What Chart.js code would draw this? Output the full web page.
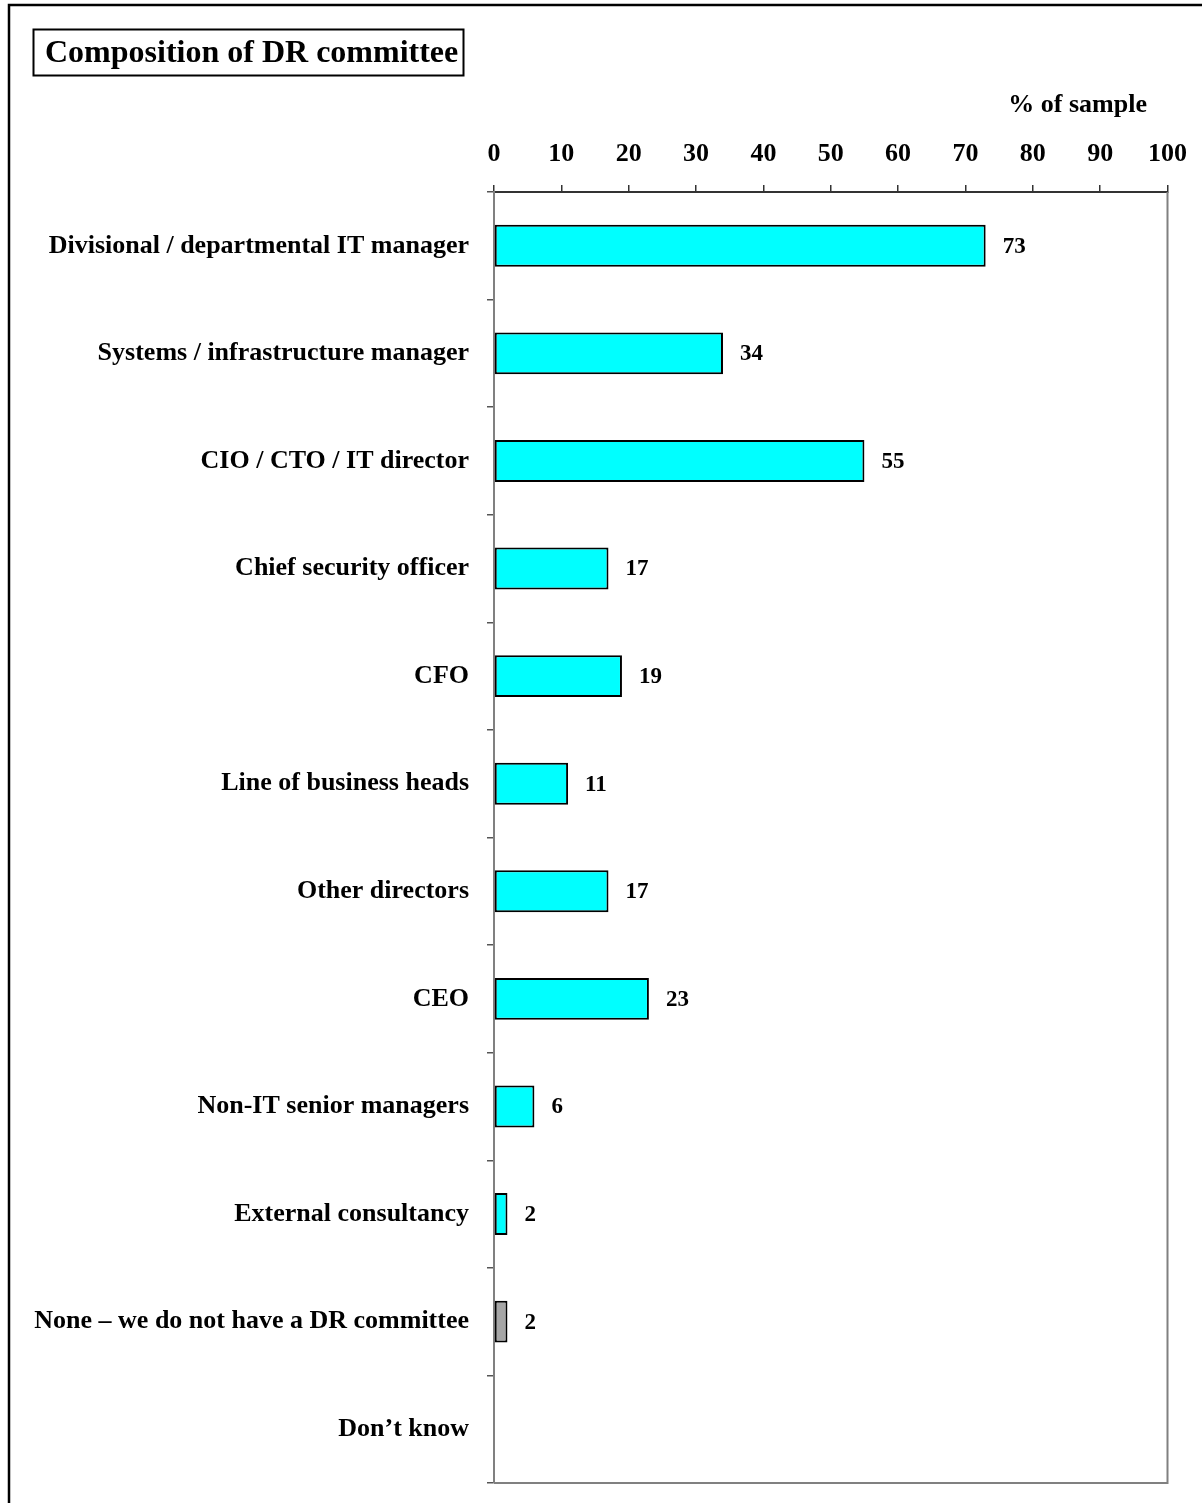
<!DOCTYPE html>
<html>
<head>
<meta charset="utf-8">
<title>Composition of DR committee</title>
<script src="https://cdn.jsdelivr.net/npm/chart.js@4/dist/chart.umd.min.js"></script>
<style>
    body { margin: 0; background: #fff; }
    #wrap { width: 1202px; height: 1503px; }
</style>
</head>
<body>
<div id="wrap"><canvas id="drChart" width="1202" height="1503"></canvas></div>
<script>
const categories = [
    'Divisional / departmental IT manager',
    'Systems / infrastructure manager',
    'CIO / CTO / IT director',
    'Chief security officer',
    'CFO',
    'Line of business heads',
    'Other directors',
    'CEO',
    'Non-IT senior managers',
    'External consultancy',
    'None \u2013 we do not have a DR committee',
    'Don\u2019t know'
];
const shares = [73, 34, 55, 17, 19, 11, 17, 23, 6, 2, 2, null];
const barColors = ['#00FFFF', '#00FFFF', '#00FFFF', '#00FFFF', '#00FFFF', '#00FFFF',
    '#00FFFF', '#00FFFF', '#00FFFF', '#00FFFF', '#A6A6A6', '#00FFFF'];
const xTicks = [0, 10, 20, 30, 40, 50, 60, 70, 80, 90, 100];

Chart.defaults.font.family = '"Liberation Serif", "Times New Roman", serif';
Chart.defaults.font.weight = 'bold';
Chart.defaults.color = '#000';

// frame, title box, axis caption and the plot border
const decorations = {
    id: 'decorations',
    afterDraw(chart) {
        const ctx = chart.ctx;
        const area = chart.chartArea;
        ctx.save();

        ctx.strokeStyle = '#000';
        ctx.lineWidth = 2.5;
        ctx.beginPath();
        ctx.moveTo(9, 1503);
        ctx.lineTo(9, 5);
        ctx.lineTo(1202, 5);
        ctx.stroke();

        ctx.lineWidth = 2;
        ctx.strokeRect(33.5, 29.5, 430, 46);
        ctx.font = 'bold 32px "Liberation Serif", serif';
        ctx.fillStyle = '#000';
        ctx.textBaseline = 'middle';
        ctx.textAlign = 'left';
        ctx.fillText('Composition of DR committee', 45, 54);

        ctx.font = 'bold 26px "Liberation Serif", serif';
        ctx.textAlign = 'right';
        ctx.fillText('% of sample', 1147, 105);

        ctx.strokeStyle = '#808080';
        ctx.lineWidth = 2;
        ctx.beginPath();
        ctx.moveTo(area.left, area.bottom);
        ctx.lineTo(area.right, area.bottom);
        ctx.lineTo(area.right, area.top);
        ctx.stroke();
        ctx.restore();
    }
};

// value printed just past the end of each bar
const barValues = {
    id: 'barValues',
    afterDatasetsDraw(chart) {
        const ctx = chart.ctx;
        const meta = chart.getDatasetMeta(0);
        ctx.save();
        ctx.font = 'bold 23px "Liberation Serif", serif';
        ctx.fillStyle = '#000';
        ctx.textAlign = 'left';
        ctx.textBaseline = 'middle';
        meta.data.forEach((bar, i) => {
            if (shares[i] === null) return;
            ctx.fillText(String(shares[i]), bar.x + 17, bar.y + 1);
        });
        ctx.restore();
    }
};

new Chart(document.getElementById('drChart'), {
    type: 'bar',
    data: {
        labels: categories,
        datasets: [{
            data: shares,
            backgroundColor: barColors,
            borderColor: '#000',
            borderWidth: 2,
            borderSkipped: false,
            categoryPercentage: 1,
            barPercentage: 0.39
        }]
    },
    options: {
        indexAxis: 'y',
        responsive: false,
        animation: false,
        layout: {
            padding: { left: 0, top: 0, right: 28, bottom: 20 }
        },
        plugins: {
            legend: { display: false },
            tooltip: { enabled: false }
        },
        scales: {
            x: {
                position: 'top',
                min: 0,
                max: 100,
                afterBuildTicks: function (scale) {
                    scale.ticks = xTicks.map(v => ({ value: v }));
                },
                afterFit: function (scale) {
                    scale.height = 192;
                },
                ticks: {
                    font: { size: 26, weight: 'bold' },
                    padding: 15,
                    maxRotation: 0
                },
                grid: {
                    drawOnChartArea: false,
                    drawTicks: true,
                    tickLength: 7,
                    color: '#333',
                    lineWidth: 1.5
                },
                border: {
                    display: true,
                    color: '#333',
                    width: 2
                }
            },
            y: {
                offset: true,
                afterFit: function (scale) {
                    scale.width = 494;
                    scale.paddingTop = 0;
                    scale.paddingBottom = 0;
                },
                ticks: {
                    font: { size: 26, weight: 'bold' },
                    padding: 18
                },
                grid: {
                    offset: true,
                    drawOnChartArea: false,
                    drawTicks: true,
                    tickLength: 7,
                    color: '#555',
                    lineWidth: 1.5
                },
                border: {
                    display: true,
                    color: '#808080',
                    width: 2
                }
            }
        }
    },
    plugins: [decorations, barValues]
});
</script>
</body>
</html>
